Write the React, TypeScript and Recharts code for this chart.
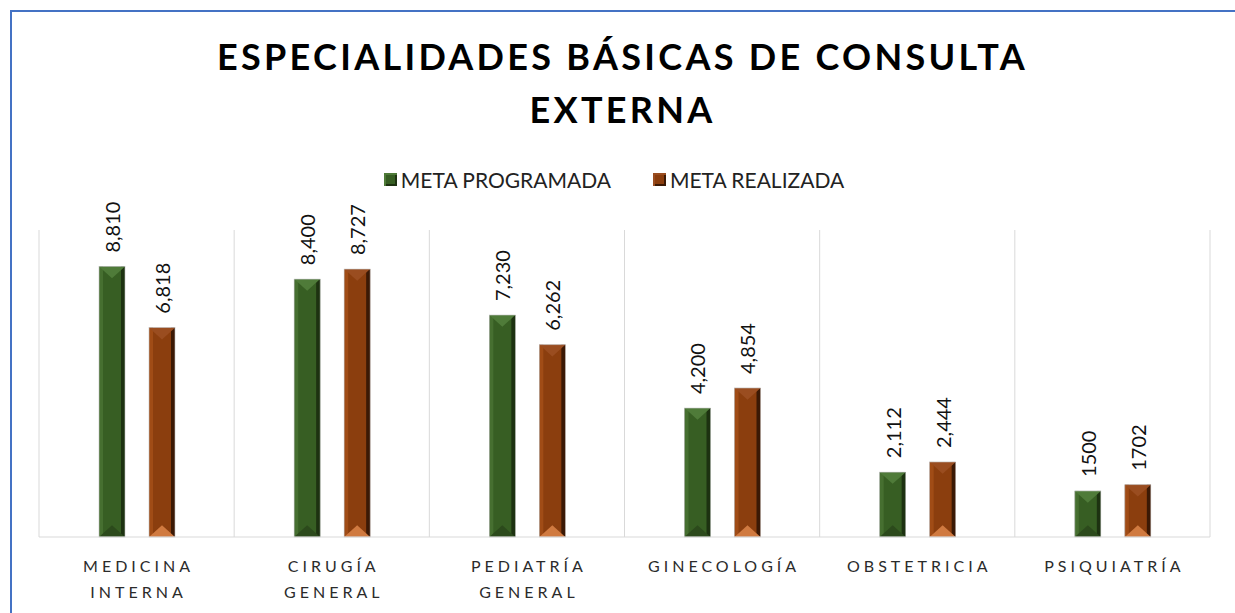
import { BarChart, Bar, XAxis, YAxis, CartesianGrid, LabelList } from "recharts"

const categories = [
  "MEDICINA INTERNA",
  "CIRUGÍA GENERAL",
  "PEDIATRÍA GENERAL",
  "GINECOLOGÍA",
  "OBSTETRICIA",
  "PSIQUIATRÍA",
]
const metaProgramada = [8810, 8400, 7230, 4200, 2112, 1500]
const metaRealizada = [6818, 8727, 6262, 4854, 2444, 1702]
const programadaLabels = ["8,810", "8,400", "7,230", "4,200", "2,112", "1500"]
const realizadaLabels = ["6,818", "8,727", "6,262", "4,854", "2,444", "1702"]

const data = categories.map((name, i) => ({
  name,
  programada: metaProgramada[i],
  realizada: metaRealizada[i],
}))

const FONT = "Lato, 'Open Sans', sans-serif"

const greenTone = {
  main: "#375e23",
  top: "#4f7b39",
  left: "#466f30",
  right: "#1d3211",
  bottom: "#2c4a1c",
}
const orangeTone = {
  main: "#8b3e0e",
  top: "#9a4d20",
  left: "#a04c16",
  right: "#3b1905",
  bottom: "#d07a40",
}

type Tone = typeof greenTone

function bevelShape(tone: Tone) {
  // eslint-disable-next-line @typescript-eslint/no-explicit-any
  return (props: any) => {
    const { x, y, width: w, height: h } = props
    if (!h || h <= 0) return <g />
    const t = Math.min(w * 0.45, h / 2)
    const e = 4
    return (
      <g>
        <rect x={x} y={y} width={w} height={h} fill={tone.main} />
        <rect x={x} y={y} width={e} height={h} fill={tone.left} />
        <rect x={x + w - e} y={y} width={e} height={h} fill={tone.right} />
        <polygon
          points={`${x},${y} ${x + w},${y} ${x + w / 2},${y + t}`}
          fill={tone.top}
        />
        <polygon
          points={`${x},${y + h} ${x + w},${y + h} ${x + w / 2},${y + h - t}`}
          fill={tone.bottom}
        />
        <rect
          x={x}
          y={y}
          width={w}
          height={h}
          fill="none"
          stroke="#bfbfbf"
          strokeWidth={0.6}
        />
      </g>
    )
  }
}

function rotatedLabel(labels: string[]) {
  // eslint-disable-next-line @typescript-eslint/no-explicit-any
  return (props: any) => {
    const { x, y, width, index } = props
    const cx = x + width / 2
    const cy = y - 14
    return (
      <text
        x={cx}
        y={cy}
        transform={`rotate(-90, ${cx}, ${cy})`}
        textAnchor="start"
        dominantBaseline="central"
        fontSize={20}
        fontFamily={FONT}
        fill="#111"
      >
        {labels[index]}
      </text>
    )
  }
}

// eslint-disable-next-line @typescript-eslint/no-explicit-any
function CategoryTick(props: any) {
  const { x, y, payload } = props
  const lines = String(payload.value).split(" ")
  return (
    <g>
      {lines.map((line: string, i: number) => (
        <text
          key={i}
          x={x + 2}
          y={y + 20 + i * 26}
          textAnchor="middle"
          dominantBaseline="central"
          fontSize={16}
          fontFamily={FONT}
          fill="#2b2b2b"
          style={{ letterSpacing: "4px" }}
        >
          {line}
        </text>
      ))}
    </g>
  )
}

function LegendItem({ tone, label }: { tone: Tone; label: string }) {
  return (
    <div style={{ display: "flex", alignItems: "center", gap: 4 }}>
      <div
        style={{
          width: 13,
          height: 13,
          background: tone.main,
          boxShadow: `inset 2px 2px 0 ${tone.top}, inset -2px -2px 0 ${tone.right}`,
        }}
      />
      <span>{label}</span>
    </div>
  )
}

export default function App() {
  return (
    <div
      style={{
        position: "absolute",
        left: 0,
        top: 0,
        width: 1235,
        height: 613,
        overflow: "hidden",
        background: "#fff",
        fontFamily: FONT,
      }}
    >
      <div
        style={{
          position: "absolute",
          left: 10,
          top: 10,
          width: 1300,
          height: 700,
          borderLeft: "2px solid #4472c4",
          borderTop: "2px solid #4472c4",
        }}
      />
      <div
        style={{
          position: "absolute",
          left: 0,
          top: 30,
          width: 1245,
          textAlign: "center",
          fontSize: 36,
          fontWeight: 700,
          lineHeight: "53px",
          letterSpacing: "3.3px",
          color: "#000",
        }}
      >
        ESPECIALIDADES BÁSICAS DE CONSULTA
        <br />
        EXTERNA
      </div>
      <div
        style={{
          position: "absolute",
          left: 0,
          top: 166,
          width: 1228,
          display: "flex",
          justifyContent: "center",
          gap: 42,
          fontSize: 21,
          color: "#222",
          lineHeight: "27px",
        }}
      >
        <LegendItem tone={greenTone} label="META PROGRAMADA" />
        <LegendItem tone={orangeTone} label="META REALIZADA" />
      </div>
      <div style={{ position: "absolute", left: 0, top: 0 }}>
        <BarChart
          width={1235}
          height={613}
          data={data}
          margin={{ top: 230, right: 25, bottom: 6, left: 39 }}
          barGap={24}
          barSize={26}
        >
          <CartesianGrid
            horizontal={false}
            stroke="#d9d9d9"
            // eslint-disable-next-line @typescript-eslint/no-explicit-any
            verticalCoordinatesGenerator={({ offset }: any) =>
              [...categories, ""].map(
                (_, i) => offset.left + (i * offset.width) / categories.length
              )
            }
          />
          <XAxis
            dataKey="name"
            interval={0}
            height={70}
            tickLine={false}
            axisLine={{ stroke: "#d9d9d9" }}
            tick={<CategoryTick />}
          />
          <YAxis hide domain={[0, 10000]} />
          <Bar
            dataKey="programada"
            name="META PROGRAMADA"
            shape={bevelShape(greenTone)}
            isAnimationActive={false}
          >
            <LabelList dataKey="programada" content={rotatedLabel(programadaLabels)} />
          </Bar>
          <Bar
            dataKey="realizada"
            name="META REALIZADA"
            shape={bevelShape(orangeTone)}
            isAnimationActive={false}
          >
            <LabelList dataKey="realizada" content={rotatedLabel(realizadaLabels)} />
          </Bar>
        </BarChart>
      </div>
    </div>
  )
}
